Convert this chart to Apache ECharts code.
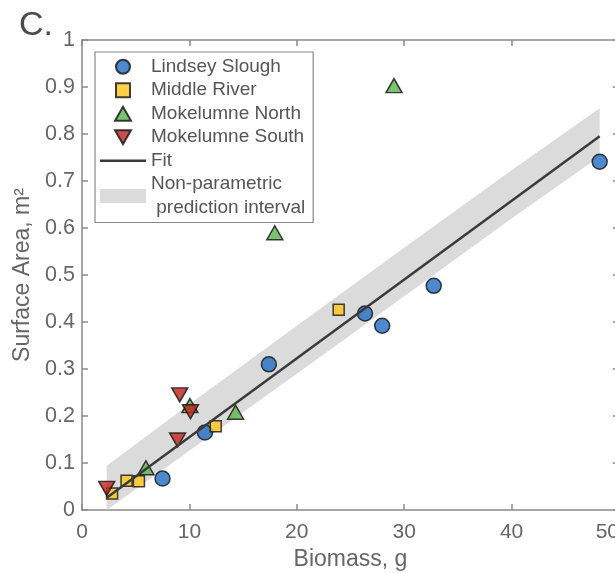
<!DOCTYPE html>
<html>
<head>
<meta charset="utf-8">
<script src="https://cdn.jsdelivr.net/npm/echarts@6/dist/echarts.min.js"></script>
<style>
    html, body { margin: 0; padding: 0; background: #fff; }
    #chart { width: 615px; height: 573px; }
</style>
</head>
<body>
<div id="chart"></div>
<script>
    // biomass (g), surface area (m2)
    var lindseySlough = [[7.5, 0.067], [11.45, 0.165], [17.4, 0.31], [26.35, 0.418], [27.95, 0.392], [32.75, 0.477], [48.2, 0.741]];
    var middleRiver = [[2.8, 0.035], [4.15, 0.062], [5.3, 0.061], [12.45, 0.178], [23.9, 0.426]];
    var mokNorth = [[5.95, 0.09], [10.05, 0.222], [14.3, 0.208], [17.95, 0.59], [29.05, 0.903]];
    var mokSouth = [[2.3, 0.046], [8.9, 0.149], [9.1, 0.245], [10.1, 0.209]];

    var fitX = [2.3, 48.2];
    var fitY = [0.026, 0.795];

    var bandX = [2.3, 10, 20, 30, 40, 48.2];
    var bandUpper = [0.094, 0.225, 0.392, 0.558, 0.723, 0.855];
    var bandLower = [0.0, 0.126, 0.29, 0.455, 0.62, 0.752];

    var xTicks = [0, 10, 20, 30, 40, 50];
    var yTicks = [0, 0.1, 0.2, 0.3, 0.4, 0.5, 0.6, 0.7, 0.8, 0.9, 1];

    var font = 'Arial, "Liberation Sans", sans-serif';
    var axisGrey = '#8a8a8a';
    var labelGrey = '#666';

    // legend glyphs
    var upTri = 'path://M8,0L16,14L0,14Z';
    var downTri = 'path://M0,0L16,0L8,14Z';
    var square = 'path://M0,0H10V10H0Z';
    var bar = 'path://M0,0H46V2.5H0Z';

    function frameAxis(pos, isX) {
        return {
            type: 'value',
            position: pos,
            min: isX ? xTicks[0] : yTicks[0],
            max: isX ? xTicks[xTicks.length - 1] : yTicks[yTicks.length - 1],
            interval: isX ? 10 : 0.1,
            axisLine: { show: true, onZero: false, lineStyle: { color: axisGrey, width: 1.5 } },
            axisTick: { show: true, inside: true, length: 6, lineStyle: { color: axisGrey, width: 1.5 } },
            axisLabel: { show: false },
            splitLine: { show: false }
        };
    }

    var xBottom = frameAxis('bottom', true);
    xBottom.axisLabel = { show: true, color: labelGrey, fontSize: 21, fontFamily: font, margin: 12, alignMaxLabel: 'right' };
    xBottom.name = 'Biomass, g';
    xBottom.nameLocation = 'middle';
    xBottom.nameGap = 28;
    xBottom.nameTextStyle = { color: labelGrey, fontSize: 23, fontFamily: font };

    var yLeft = frameAxis('left', false);
    yLeft.axisLabel = {
        show: true, color: labelGrey, fontSize: 21.5, fontFamily: font, margin: 7,
        formatter: function (v) { return v === 0 ? '0' : (v === 1 ? '1' : v.toFixed(1)); }
    };
    yLeft.name = 'Surface Area, m\u00b2';
    yLeft.nameLocation = 'middle';
    yLeft.nameGap = 47;
    yLeft.nameTextStyle = { color: labelGrey, fontSize: 23, fontFamily: font };

    var markerBorder = { borderColor: '#111', borderWidth: 1.5 };

    var chart = echarts.init(document.getElementById('chart'));
    var option = {
        backgroundColor: '#fff',
        animation: false,
        title: {
            text: 'C.',
            left: 14,
            top: 4,
            textStyle: { color: '#4a4a4a', fontSize: 34, fontWeight: 'normal', fontFamily: font }
        },
        grid: { left: 82, top: 40, width: 537, height: 470, outerBoundsMode: 'none', containLabel: false },
        legend: {
            orient: 'vertical',
            left: 95,
            top: 52,
            padding: [3, 8, 3, 5],
            itemGap: 0,
            itemWidth: 46,
            itemHeight: 14,
            borderColor: '#8a8a8a',
            borderWidth: 1.2,
            backgroundColor: '#fff',
            textStyle: { color: '#555', fontSize: 19, fontFamily: font, lineHeight: 23.5 },
            data: [
                { name: 'Lindsey Slough', icon: 'circle' },
                { name: 'Middle River', icon: square },
                { name: 'Mokelumne North', icon: upTri },
                { name: 'Mokelumne South', icon: downTri, symbolRotate: 0 },
                { name: 'Fit', icon: bar },
                { name: 'Non-parametric\n prediction interval', icon: 'rect' }
            ]
        },
        xAxis: [xBottom, frameAxis('top', true)],
        yAxis: [yLeft, frameAxis('right', false)],
        series: [
            {
                name: 'Non-parametric\n prediction interval',
                type: 'custom',
                z: 1,
                silent: true,
                itemStyle: { color: '#dbdbdb' },
                data: [[bandX[0], bandLower[0]]],
                renderItem: function (params, api) {
                    var pts = [];
                    for (var i = 0; i < bandX.length; i++) pts.push(api.coord([bandX[i], bandUpper[i]]));
                    for (var j = bandX.length - 1; j >= 0; j--) pts.push(api.coord([bandX[j], bandLower[j]]));
                    return { type: 'polygon', shape: { points: pts }, style: { fill: '#dbdbdb' } };
                }
            },
            {
                name: 'Lindsey Slough', type: 'scatter', z: 3,
                symbol: 'circle', symbolSize: 15,
                itemStyle: Object.assign({ color: '#1f6cc0' }, markerBorder),
                data: lindseySlough
            },
            {
                name: 'Middle River', type: 'scatter', z: 3,
                symbol: 'rect', symbolSize: 11,
                itemStyle: Object.assign({ color: '#ffc61a' }, markerBorder),
                data: middleRiver
            },
            {
                name: 'Mokelumne North', type: 'scatter', z: 3,
                symbol: 'triangle', symbolSize: [16, 14],
                itemStyle: Object.assign({ color: '#5db34f' }, markerBorder),
                data: mokNorth
            },
            {
                name: 'Mokelumne South', type: 'scatter', z: 3,
                symbol: 'triangle', symbolRotate: 180, symbolSize: [16, 14],
                itemStyle: Object.assign({ color: '#c0221c' }, markerBorder),
                data: mokSouth
            },
            {
                name: 'Fit', type: 'line', z: 4,
                symbol: 'none',
                lineStyle: { color: '#3a3a3a', width: 2.5 },
                itemStyle: { color: '#3a3a3a' },
                data: fitX.map(function (x, i) { return [x, fitY[i]]; })
            }
        ]
    };
    chart.setOption(option);
    window.onresize = chart.resize;
</script>
</body>
</html>
